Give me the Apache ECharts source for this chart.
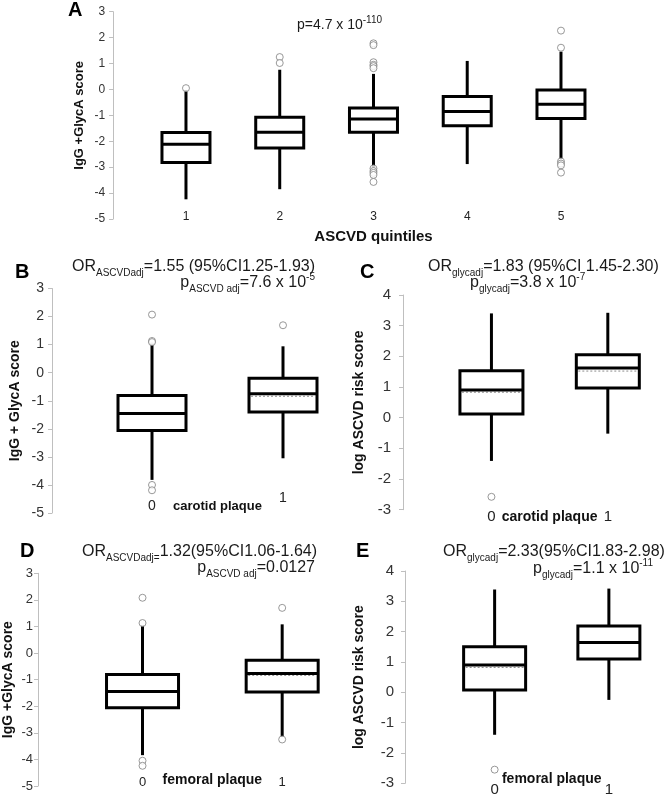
<!DOCTYPE html>
<html><head><meta charset="utf-8">
<script src="https://cdn.jsdelivr.net/npm/echarts@6/dist/echarts.min.js"></script>
<style>html,body{margin:0;padding:0;background:#fff}#c{width:666px;height:799px}</style>
</head><body><div id="c"></div>
<script>
// ---------- Panel A: ASCVD quintiles ----------
const catsA = ['1', '2', '3', '4', '5'];
const minA = [-4.24, -3.85, -3.04, -2.88, -2.68];
const q1A = [-2.82, -2.26, -1.65, -1.40, -1.12];
const medA = [-2.12, -1.65, -1.14, -0.85, -0.57];
const q3A = [-1.66, -1.07, -0.72, -0.27, -0.02];
const maxA = [-0.02, 0.76, 0.60, 1.10, 1.46];
const meanA = [null, null, null, null, null];
const outA = [[0.05], [1.25, 1.02], [1.78, 1.71, 1.05, 0.95, 0.90, 0.82, -3.05, -3.15, -3.22, -3.30, -3.57], [], [2.27, 1.61, -2.78, -2.86, -2.93, -3.21]];
const ticksA = ['-5', '-4', '-3', '-2', '-1', '0', '1', '2', '3'];

// ---------- Panel B: IgG+GlycA vs carotid plaque ----------
const catsB = ['0', '1'];
const minB = [-3.82, -3.05];
const q1B = [-2.06, -1.40];
const medB = [-1.45, -0.75];
const q3B = [-0.81, -0.20];
const maxB = [1.08, 0.94];
const meanB = [null, -0.84];
const outB = [[2.07, 1.13, 1.09, -4.00, -4.19], [1.69]];

// ---------- Panel C: log ASCVD vs carotid plaque ----------
const catsC = ['0', '1'];
const minC = [-1.41, -0.52];
const q1C = [0.12, 0.97];
const medC = [0.90, 1.62];
const q3C = [1.53, 2.05];
const maxC = [3.40, 3.42];
const meanC = [0.83, 1.52];
const outC = [[-2.58], []];

// ---------- Panel D: IgG+GlycA vs femoral plaque ----------
const catsD = ['0', '1'];
const minD = [-3.84, -3.16];
const q1D = [-2.06, -1.46];
const medD = [-1.45, -0.77];
const q3D = [-0.81, -0.27];
const maxD = [1.04, 1.08];
const meanD = [null, -0.84];
const outD = [[2.08, 1.13, -4.05, -4.24], [1.70, -3.25]];

// ---------- Panel E: log ASCVD vs femoral plaque ----------
const catsE = ['0', '1'];
const minE = [-1.40, -0.25];
const q1E = [0.08, 1.10];
const medE = [0.90, 1.64];
const q3E = [1.50, 2.19];
const maxE = [3.39, 3.42];
const meanE = [0.82, null];
const outE = [[-2.55], []];

function boxData(mn, q1, md, q3, mx, mean) {
  return mn.map((v, i) => [i, v, q1[i], md[i], q3[i], mx[i], mean[i] == null ? '-' : mean[i]]);
}
function outData(out) {
  const d = [];
  out.forEach((arr, i) => arr.forEach(v => d.push([i, v])));
  return d;
}
function boxRender(bw) {
  return function (params, api) {
    const x = api.value(0);
    const pMin = api.coord([x, api.value(1)]);
    const pQ1 = api.coord([x, api.value(2)]);
    const pMed = api.coord([x, api.value(3)]);
    const pQ3 = api.coord([x, api.value(4)]);
    const pMax = api.coord([x, api.value(5)]);
    const mean = api.value(6);
    const cx = pMed[0], h = bw / 2;
    const st = { stroke: '#000', lineWidth: 3, fill: null };
    const ch = [
      { type: 'line', shape: { x1: cx, y1: pMax[1], x2: cx, y2: pQ3[1] }, style: st },
      { type: 'line', shape: { x1: cx, y1: pQ1[1], x2: cx, y2: pMin[1] }, style: st },
      { type: 'rect', shape: { x: cx - h, y: pQ3[1], width: bw, height: pQ1[1] - pQ3[1] }, style: { stroke: '#000', lineWidth: 3, fill: '#fff' } },
    ];
    if (!isNaN(mean)) {
      const pM = api.coord([x, mean]);
      ch.push({ type: 'line', shape: { x1: cx - h + 2, y1: pM[1], x2: cx + h - 2, y2: pM[1] }, style: { stroke: '#8c8c8c', lineWidth: 1, lineDash: [2, 2] } });
    }
    ch.push({ type: 'line', shape: { x1: cx - h, y1: pMed[1], x2: cx + h, y2: pMed[1] }, style: st });
    return { type: 'group', children: ch };
  };
}

const FONT = '"Liberation Sans", Arial, sans-serif';
const axisGray = '#bfbfbf';

const panels = [
  { cats: catsA, box: boxData(minA, q1A, medA, q3A, maxA, meanA), out: outData(outA), grid: { left: 139.1, width: 468.75, top: 11.7, height: 207.3 }, offset: 26, ymin: -5, ymax: 3, bw: 48,
    yname: 'IgG +GlycA score', ynameGap: 27, ynameSize: 13, yLabSize: 12, yLabMargin: 8,
    xname: 'ASCVD quintiles', xnameGap: 10, xnameSize: 15, xLabSize: 12, xLabMargin: -8 },
  { cats: catsB, box: boxData(minB, q1B, medB, q3B, maxB, meanB), out: outData(outB), grid: { left: 86.5, width: 262, top: 288.5, height: 224.5 }, offset: 34.5, ymin: -5, ymax: 3, bw: 68,
    yname: 'IgG + GlycA score', ynameGap: 30, ynameSize: 14, yLabSize: 14, yLabMargin: 8,
    xname: 'carotid plaque', xnameGap: -13, xnameSize: 13, xLabSize: 14, xLabMargin: -22, raise1: true },
  { cats: catsC, box: boxData(minC, q1C, medC, q3C, maxC, meanC), out: outData(outC), grid: { left: 433.25, width: 251, top: 295, height: 214.7 }, offset: 30.25, ymin: -3, ymax: 4, bw: 63,
    yname: 'log ASCVD risk score', ynameGap: 37, ynameSize: 14, yLabSize: 15, yLabMargin: 12,
    xname: 'carotid plaque', xnameGap: 0, xnameSize: 14, xLabSize: 15, xLabMargin: 0 },
  { cats: catsD, box: boxData(minD, q1D, medD, q3D, maxD, meanD), out: outData(outD), grid: { left: 68, width: 284, top: 573.3, height: 212.7 }, offset: 34.7, ymin: -5, ymax: 3, bw: 72,
    yname: 'IgG +GlycA score', ynameGap: 23, ynameSize: 14, yLabSize: 13, yLabMargin: 5,
    xname: 'femoral plaque', xnameGap: -13, xnameSize: 14, xLabSize: 13, xLabMargin: -10 },
  { cats: catsE, box: boxData(minE, q1E, medE, q3E, maxE, meanE), out: outData(outE), grid: { left: 437.5, width: 246, top: 571, height: 212.3 }, offset: 32.5, ymin: -3, ymax: 4, bw: 62,
    yname: 'log ASCVD risk score', ynameGap: 39, ynameSize: 14, yLabSize: 15, yLabMargin: 11,
    xname: 'femoral plaque', xnameGap: -11, xnameSize: 14, xLabSize: 15, xLabMargin: -1 },
];

const grid = [], xAxis = [], yAxis = [], series = [];
panels.forEach((p, i) => {
  grid.push(Object.assign({ containLabel: false }, p.grid));
  const xl = { fontSize: p.xLabSize, color: '#222', margin: p.xLabMargin, fontFamily: FONT };
  if (p.raise1) {
    xl.formatter = v => v === '1' ? '{u|1}' : '{n|' + v + '}';
    xl.rich = { u: { fontSize: p.xLabSize, fontFamily: FONT, color: '#222' }, n: { fontSize: p.xLabSize, fontFamily: FONT, color: '#222', padding: [8, 0, 0, 0] } };
  }
  xAxis.push({ type: 'category', gridIndex: i, data: p.cats, boundaryGap: true,
    axisLine: { show: false }, axisTick: { show: false }, axisLabel: xl,
    name: p.xname, nameLocation: 'middle', nameGap: p.xnameGap, nameMoveOverlap: false,
    nameTextStyle: { fontWeight: 'bold', fontSize: p.xnameSize, color: '#111', fontFamily: FONT } });
  yAxis.push({ type: 'value', gridIndex: i, min: p.ymin, max: p.ymax, interval: 1, offset: p.offset,
    axisLine: { show: true, lineStyle: { color: axisGray, width: 1 } },
    axisTick: { show: true, length: 4, lineStyle: { color: axisGray } },
    splitLine: { show: false },
    axisLabel: { fontSize: p.yLabSize, color: '#333', margin: p.yLabMargin, fontFamily: FONT },
    name: p.yname, nameLocation: 'middle', nameGap: p.ynameGap, nameMoveOverlap: false,
    nameTextStyle: { fontWeight: 'bold', fontSize: p.ynameSize, color: '#111', fontFamily: FONT } });
  series.push({ type: 'custom', xAxisIndex: i, yAxisIndex: i, data: p.box, renderItem: boxRender(p.bw),
    encode: { x: 0, y: [1, 2, 3, 4, 5] }, z: 2, silent: true });
  series.push({ type: 'scatter', xAxisIndex: i, yAxisIndex: i, data: p.out, symbol: 'circle', symbolSize: 7,
    itemStyle: { color: '#fff', borderColor: '#808080', borderWidth: 1 }, z: 3, silent: true });
});

const base = { color: '#1a1a1a', fontFamily: FONT, fontWeight: 'normal' };
const rich = {
  m: Object.assign({ fontSize: 16, lineHeight: 22, verticalAlign: 'middle' }, base),
  s: Object.assign({ fontSize: 10, lineHeight: 22, verticalAlign: 'bottom' }, base),
  u: Object.assign({ fontSize: 10, lineHeight: 22, verticalAlign: 'top' }, base),
  m14: Object.assign({ fontSize: 14, lineHeight: 20, verticalAlign: 'middle' }, base),
  u14: Object.assign({ fontSize: 10, lineHeight: 20, verticalAlign: 'top' }, base),
};
function T(text, pos) { return Object.assign({ text: text, padding: 0, textStyle: { fontWeight: 'normal', rich: rich } }, pos); }
function L(letter, left, top) { return { text: letter, left: left, top: top, padding: 0, textStyle: { fontSize: 20, fontWeight: 'bold', color: '#000', fontFamily: FONT } }; }

const title = [
  L('A', 68, 0), L('B', 15, 262), L('C', 360, 262), L('D', 20, 541), L('E', 356, 541),
  T('{m14|p=4.7 x 10}{u14|-110}', { left: 297, top: 15 }),
  T('{m|OR}{s|ASCVDadj}{m|=1.55 (95%CI1.25-1.93)}', { left: 72, top: 256 }),
  T('{m|p}{s|ASCVD adj}{m|=7.6 x 10}{u|-5}', { right: 351, top: 272 }),
  T('{m|OR}{s|glycadj}{m|=1.83 (95%CI 1.45-2.30)}', { left: 428, top: 256 }),
  T('{m|p}{s|glycadj}{m|=3.8 x 10}{u|-7}', { left: 470, top: 272 }),
  T('{m|OR}{s|ASCVDadj=}{m|1.32(95%CI1.06-1.64)}', { left: 82, top: 541 }),
  T('{m|p}{s|ASCVD adj}{m|=0.0127}', { right: 351, top: 557 }),
  T('{m|OR}{s|glycadj}{m|=2.33(95%CI1.83-2.98)}', { left: 443, top: 541 }),
  T('{m|p}{s|glycadj}{m|=1.1 x 10}{u|-11}', { right: 13, top: 558 }),
];

const chart = echarts.init(document.getElementById('c'), null, { renderer: 'canvas' });
chart.setOption({ backgroundColor: '#fff', animation: false, title, grid, xAxis, yAxis, series });
</script>
</body></html>
